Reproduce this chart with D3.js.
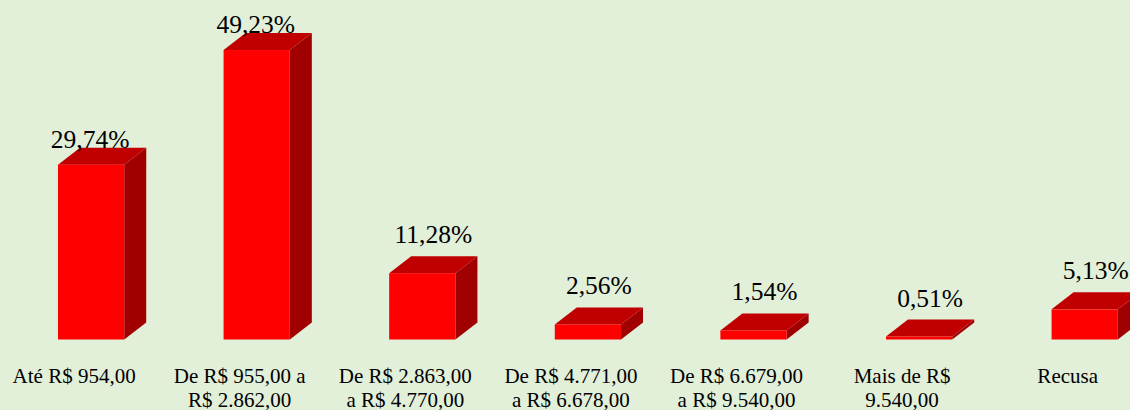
<!DOCTYPE html>
<html>
<head>
<meta charset="utf-8">
<style>
body { margin: 0; background: #E2EFD9; }
svg { display: block; }
</style>
</head>
<body>
<svg id="chart" width="1130" height="410"></svg>
<script src="https://cdnjs.cloudflare.com/ajax/libs/d3/7.8.5/d3.min.js"></script>
<script>
const categories = ["Até R$ 954,00", "De R$ 955,00 a R$ 2.862,00", "De R$ 2.863,00 a R$ 4.770,00",
  "De R$ 4.771,00 a R$ 6.678,00", "De R$ 6.679,00 a R$ 9.540,00", "Mais de R$ 9.540,00", "Recusa"];
const tickLines = [
  ["Até R$ 954,00"],
  ["De R$ 955,00 a", "R$ 2.862,00"],
  ["De R$ 2.863,00", "a R$ 4.770,00"],
  ["De R$ 4.771,00", "a R$ 6.678,00"],
  ["De R$ 6.679,00", "a R$ 9.540,00"],
  ["Mais de R$", "9.540,00"],
  ["Recusa"]
];
const values = [29.74, 49.23, 11.28, 2.56, 1.54, 0.51, 5.13];

const FONT = "'Liberation Serif'";
const svg = d3.select("#chart");
const W = 1130, H = 410;
svg.append("rect").attr("width", W).attr("height", H).attr("fill", "#E2EFD9");

const base = 339.5;
const depthX = 22, depthY = 17;

const x = d3.scaleBand()
    .domain(categories)
    .range([8.3, 1167.5])
    .paddingInner(0.6)
    .paddingOuter(0.3);

const y = d3.scaleLinear()
    .domain([0, 50])
    .range([base, base - 294]);

const data = categories.map((c, i) => ({ cat: c, v: values[i] }));

const bars = svg.append("g").selectAll("g")
    .data(data)
    .enter()
    .append("g");

// side face
bars.append("path")
    .attr("fill", "#A00000")
    .attr("d", d => {
        const x1 = x(d.cat) + x.bandwidth(), t = y(d.v);
        return `M${x1},${base}L${x1 + depthX},${base - depthY}L${x1 + depthX},${t - depthY}L${x1},${t}Z`;
    });

// top face
bars.append("path")
    .attr("fill", "#C00000")
    .attr("d", d => {
        const x0 = x(d.cat), x1 = x0 + x.bandwidth(), t = y(d.v);
        return `M${x0},${t}L${x0 + depthX},${t - depthY}L${x1 + depthX},${t - depthY}L${x1},${t}Z`;
    });

// front face
bars.append("rect")
    .attr("fill", "#FF0000")
    .attr("x", d => x(d.cat))
    .attr("y", d => y(d.v))
    .attr("width", x.bandwidth())
    .attr("height", d => base - y(d.v));

// value labels
bars.append("text")
    .attr("text-anchor", "middle")
    .style("font-family", FONT)
    .style("font-size", "25.5px")
    .attr("fill", "#000")
    .attr("x", d => {
        const c = x(d.cat) + x.bandwidth() / 2;
        return (base - y(d.v)) > 100 ? c - 1 : c + 11;
    })
    .attr("y", d => (base - y(d.v)) > 100 ? y(d.v) - 17 : y(d.v) - 30)
    .text(d => d3.format(".2f")(d.v).replace(".", ",") + "%");

// category axis
const axis = svg.append("g")
    .attr("transform", `translate(-17,${base})`)
    .call(d3.axisBottom(x).tickSize(0).tickPadding(0));
axis.select(".domain").remove();
axis.selectAll(".tick text").each(function(d, i) {
    const t = d3.select(this);
    t.text(null)
     .attr("y", 43)
     .attr("dy", null)
     .style("font-size", "21px")
     .style("font-family", FONT)
     .attr("fill", "#000");
    tickLines[i].forEach((ln, k) => {
        t.append("tspan").attr("x", 0).attr("dy", k === 0 ? 0 : 24).text(ln);
    });
});
</script>
</body>
</html>
